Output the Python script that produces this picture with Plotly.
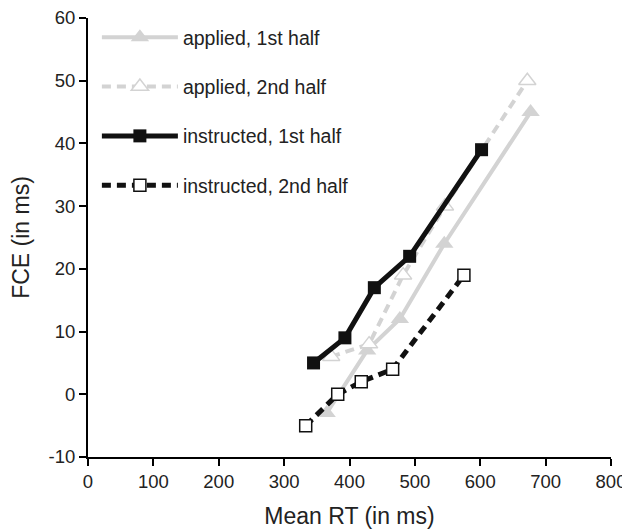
import plotly.graph_objects as go

# Data
applied_1st_x = [365, 427, 477, 545, 677]
applied_1st_y = [-3, 7, 12, 24, 45]
applied_2nd_x = [372, 430, 482, 546, 672]
applied_2nd_y = [6, 8, 19, 30, 50]
instructed_1st_x = [345, 393, 438, 492, 602]
instructed_1st_y = [5, 9, 17, 22, 39]
instructed_2nd_x = [333, 382, 418, 466, 575]
instructed_2nd_y = [-5, 0, 2, 4, 19]

names = ["applied, 1st half", "applied, 2nd half",
         "instructed, 1st half", "instructed, 2nd half"]

x_tickvals = [0, 100, 200, 300, 400, 500, 600, 700, 800]
x_ticktext = ["0", "100", "200", "300", "400", "500", "600", "700", "800"]
y_tickvals = [-10, 0, 10, 20, 30, 40, 50, 60]
y_ticktext = ["-10", "0", "10", "20", "30", "40", "50", "60"]

GRAY = "#d3d3d3"
BLACK = "#111111"
FONT = "Liberation Sans, Arial, sans-serif"

fig = go.Figure()
fig.add_trace(go.Scatter(
    x=applied_1st_x, y=applied_1st_y, name=names[0], mode="lines+markers",
    legendgroup="a1",
    line=dict(color=GRAY, width=4),
    marker=dict(symbol="triangle-up", size=16, color=GRAY, line=dict(width=0))))
fig.add_trace(go.Scatter(
    x=applied_2nd_x, y=applied_2nd_y, name=names[1], mode="lines+markers",
    legendgroup="a2",
    line=dict(color=GRAY, width=4, dash="9px,6px"),
    marker=dict(symbol="triangle-up", size=15, color="white",
                line=dict(color=GRAY, width=1.5))))
fig.add_trace(go.Scatter(
    x=instructed_1st_x, y=instructed_1st_y, name=names[2], mode="lines+markers",
    legendgroup="i1",
    line=dict(color=BLACK, width=5),
    marker=dict(symbol="square", size=13, color=BLACK, line=dict(width=0))))
fig.add_trace(go.Scatter(
    x=instructed_2nd_x, y=instructed_2nd_y, name=names[3], mode="lines+markers",
    legendgroup="i2",
    line=dict(color=BLACK, width=5, dash="9px,6px"),
    marker=dict(symbol="square", size=12, color="white",
                line=dict(color=BLACK, width=1.5))))

axis_common = dict(
    showline=True, linecolor="black", linewidth=2,
    ticks="outside", ticklen=7, tickwidth=2, tickcolor="black",
    showgrid=False, zeroline=False, automargin=False,
    ticklabeloverflow="allow",
    tickfont=dict(family=FONT, size=18.5, color="#222"),
    title_font=dict(family=FONT, size=23, color="#222"),
)

fig.update_xaxes(range=[0, 800], tickmode="array", tickvals=x_tickvals, ticktext=x_ticktext,
                 title_text="Mean RT (in ms)", title_standoff=17, **axis_common)
fig.update_yaxes(range=[-10, 60], tickmode="array", tickvals=y_tickvals, ticktext=y_ticktext,
                 title_text="FCE (in ms)", title_standoff=12, **axis_common)

# page body has an 8px margin, so the figure is sized/offset to fit the window
fig.update_layout(
    width=622, height=522,
    margin=dict(l=80, r=19, t=10, b=73),
    plot_bgcolor="white", paper_bgcolor="white",
    showlegend=True,
    legend=dict(x=0.017, y=1.0, xanchor="left", yanchor="top",
                bgcolor="rgba(0,0,0,0)", itemwidth=76, tracegroupgap=21,
                font=dict(family=FONT, size=19.5, color="#222")),
)

fig.write_html("out.html")
